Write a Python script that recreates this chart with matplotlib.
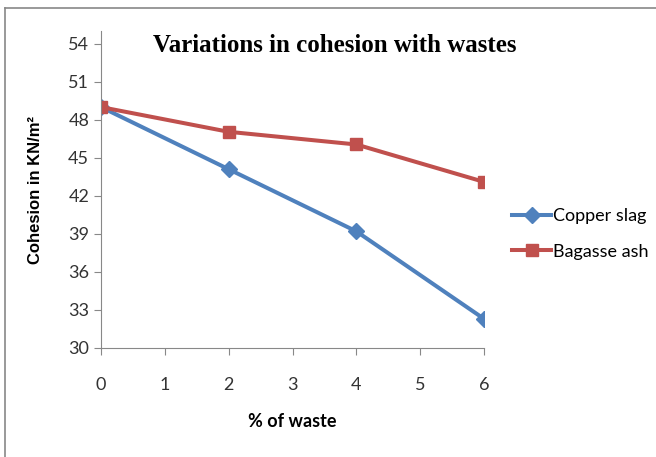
import matplotlib.pyplot as plt
from matplotlib.lines import Line2D

# data
waste = [0, 2, 4, 6]
copper_slag = [49.0, 44.1, 39.2, 32.3]
bagasse_ash = [49.0, 47.05, 46.05, 43.1]

font_narrow = ['Lato', 'DejaVu Sans']

fig = plt.figure(figsize=(6.56, 4.57), dpi=100)
ax = fig.add_axes([101/656, 1 - 348/457, (484 - 101)/656, (348 - 31)/457])

ax.plot(waste, copper_slag, color='#4F81BD', lw=2.9, marker='D', ms=8,
        label='Copper slag')
ax.plot(waste, bagasse_ash, color='#C0504D', lw=2.9, marker='s', ms=9,
        label='Bagasse ash')

ax.set_xlim(0, 6)
ax.set_ylim(30, 55)
ax.set_xticks(range(0, 7))
ax.set_yticks(range(30, 55, 3))
for s in ['top', 'right']:
    ax.spines[s].set_visible(False)
for s in ['left', 'bottom']:
    ax.spines[s].set_color('#888888')
ax.tick_params(axis='both', colors='#888888', length=5, direction='out',
               labelcolor='#333333', labelsize=13)
ax.tick_params(axis='x', pad=16)
for lab in ax.get_xticklabels() + ax.get_yticklabels():
    lab.set_family(font_narrow)

fig.text(335/656, 1 - 45/457, 'Variations in cohesion with wastes',
         family='Liberation Serif', fontweight='bold', fontsize=18,
         ha='center', va='center')
ax.set_xlabel('% of waste', family=font_narrow, fontweight='bold', fontsize=13,
              labelpad=14)
ax.set_ylabel('Cohesion in KN/m²', family='Liberation Sans', fontweight='bold',
              fontsize=12, labelpad=18)

ax.legend(loc='center left', bbox_to_anchor=(1.03, 0.36), frameon=False,
          prop={'family': font_narrow, 'size': 13}, handlelength=2.2,
          handletextpad=0.1, labelspacing=1.1)

# outer chart border
fig.add_artist(Line2D([5/656, 1], [1 - 8/457, 1 - 8/457], color='#888888', lw=1.2))
fig.add_artist(Line2D([5/656, 5/656], [0, 1 - 8/457], color='#888888', lw=1.2))

fig.savefig('out.png', dpi=100)
